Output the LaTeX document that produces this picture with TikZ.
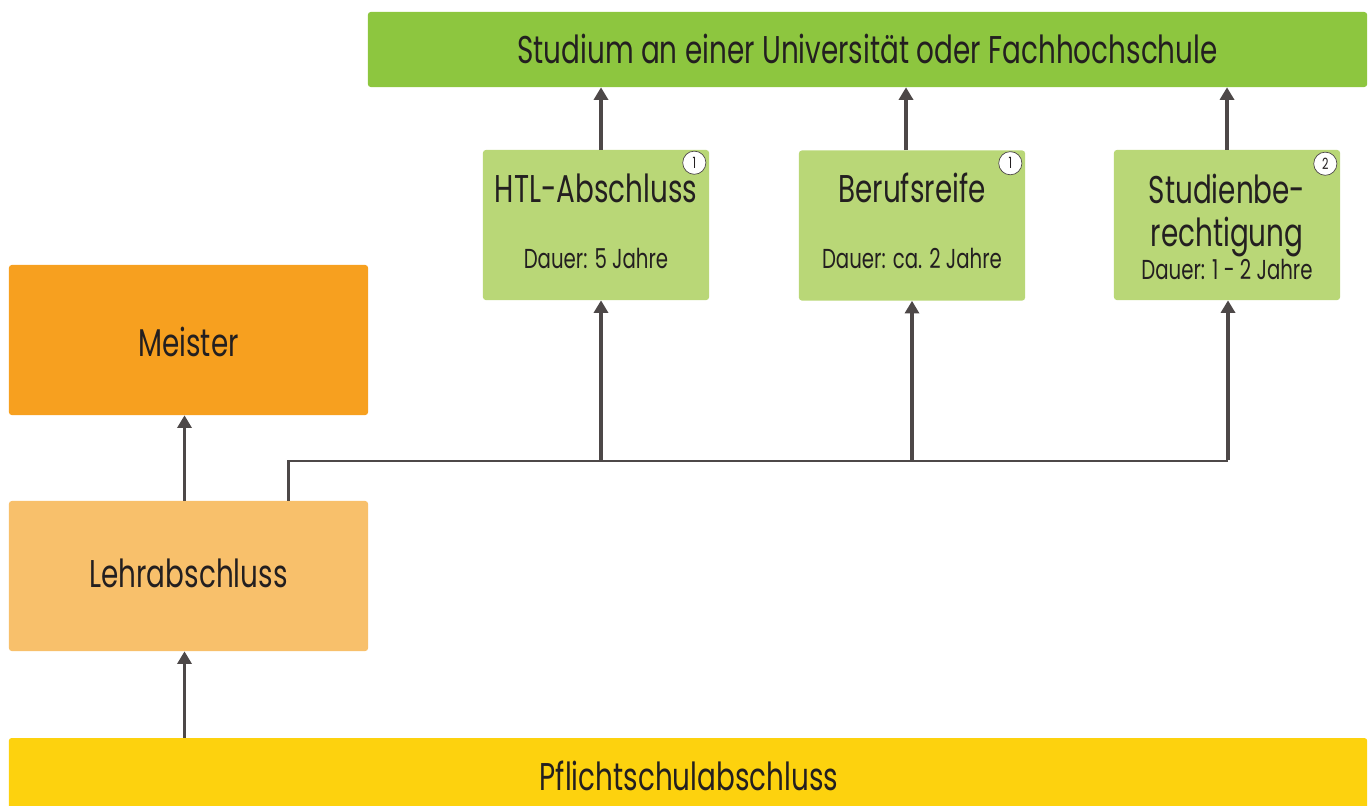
\documentclass[tikz,border=0pt]{standalone}
\usepackage{fontspec}
\setmainfont{Poppins}[FakeStretch=0.72]
\usetikzlibrary{arrows.meta,positioning}

\definecolor{gruen}{HTML}{8DC63F}
\definecolor{hellgruen}{HTML}{B9D777}
\definecolor{orange}{HTML}{F7A01F}
\definecolor{hellorange}{HTML}{F8C06B}
\definecolor{gelb}{HTML}{FDD20E}
\definecolor{pfeilgrau}{HTML}{4D4848}
\definecolor{textgrau}{HTML}{231F20}

\newcommand\gross{\fontsize{27.5}{32}\selectfont}
\newcommand\klein{\fontsize{19.5}{23}\selectfont}

\tikzset{
    box/.style={rectangle, rounded corners=2pt, inner sep=0pt},
    titel/.style={anchor=base, text=textgrau, font=\gross, inner sep=0pt},
    dauer/.style={anchor=base, text=textgrau, font=\klein, inner sep=0pt},
    pfeil/.style={line width=2.5pt, draw=pfeilgrau, -{Triangle[width=10pt,length=9pt]}},
    linie/.style={line width=1.8pt, draw=pfeilgrau},
    nummer/.style={circle, draw=pfeilgrau, fill=white, line width=0.5pt, minimum size=16.5pt,
        inner sep=0pt, text=textgrau, font=\fontsize{11}{11}\selectfont}
}

\begin{document}
\begin{tikzpicture}[x=0.025cm,y=-0.025cm]

    \useasboundingbox (0,0) rectangle (1371,805);
    \clip (0,0) rectangle (1371,805);

    %boxes:
    \node[box, fill=gruen, minimum width=24.975cm, minimum height=1.875cm] (studium) at (867.5,49.5) {};
    \node[box, fill=hellgruen, minimum width=5.65cm, minimum height=3.75cm] (htl) at (596,225) {};
    \node[box, fill=hellgruen, minimum width=5.65cm, minimum height=3.75cm] (beruf) at (912,225.5) {};
    \node[box, fill=hellgruen, minimum width=5.65cm, minimum height=3.75cm] (studb) at (1227,225) {};
    \node[box, fill=orange, minimum width=8.975cm, minimum height=3.75cm] (meister) at (188.5,340) {};
    \node[box, fill=hellorange, minimum width=8.975cm, minimum height=3.75cm] (lehr) at (188.5,576) {};
    \node[box, fill=gelb, minimum width=33.95cm, minimum height=2.2cm] (pflicht) at (688,782) {};

    %texts:
    \node[titel] (studiumtext) at (867.5,63) {Studium an einer Universität oder Fachhochschule};
    \node[titel] (htltext) at (596,202) {HTL-Abschluss};
    \node[dauer] (htldauer) at (596,268) {Dauer: 5 Jahre};
    \node[titel] (beruftext) at (912,202) {Berufsreife};
    \node[dauer] (berufdauer) at (912,268) {Dauer: ca. 2 Jahre};
    \node[titel] (studbtext) at (1227,203) {Studienbe-};
    \node[titel] (studbtext2) at (1227,246) {rechtigung};
    \node[dauer] (studbdauer) at (1227,279) {Dauer: 1 - 2 Jahre};
    \node[titel] (meistertext) at (188.5,356) {Meister};
    \node[titel] (lehrtext) at (188.5,587) {Lehrabschluss};
    \node[titel] (pflichttext) at (689,790) {Pflichtschulabschluss};

    %numbers:
    \node[nummer] (n1) at ([xshift=-0.375cm,yshift=-0.325cm]htl.north east) {1};
    \node[nummer] (n2) at ([xshift=-0.375cm,yshift=-0.325cm]beruf.north east) {1};
    \node[nummer] (n3) at ([xshift=-0.375cm,yshift=-0.35cm]studb.north east) {2};

    %arrows:
    \draw[pfeil] ([xshift=0.125cm]htl.north) -- ([xshift=0.125cm]htl.north |- studium.south);
    \draw[pfeil] ([xshift=-0.15cm]beruf.north) -- ([xshift=-0.15cm]beruf.north |- studium.south);
    \draw[pfeil] (studb.north) -- (studb.north |- studium.south);
    \draw[pfeil] ([xshift=-0.1cm]lehr.north) -- ([xshift=-0.1cm]meister.south);
    \draw[pfeil] ([xshift=-0.1cm]pflicht.north -| lehr.south) -- ([xshift=-0.1cm]lehr.south);

    %branch:
    \coordinate (split) at (1228,461);
    \draw[linie] ([xshift=2.5cm]lehr.north) |- (split);
    \draw[pfeil] ([xshift=0.125cm]htl.south |- split) -- ([xshift=0.125cm]htl.south);
    \draw[pfeil] (beruf.south |- split) -- (beruf.south);
    \draw[pfeil] ([yshift=0.8pt]split) -- (studb.south -| split);

\end{tikzpicture}
\end{document}
